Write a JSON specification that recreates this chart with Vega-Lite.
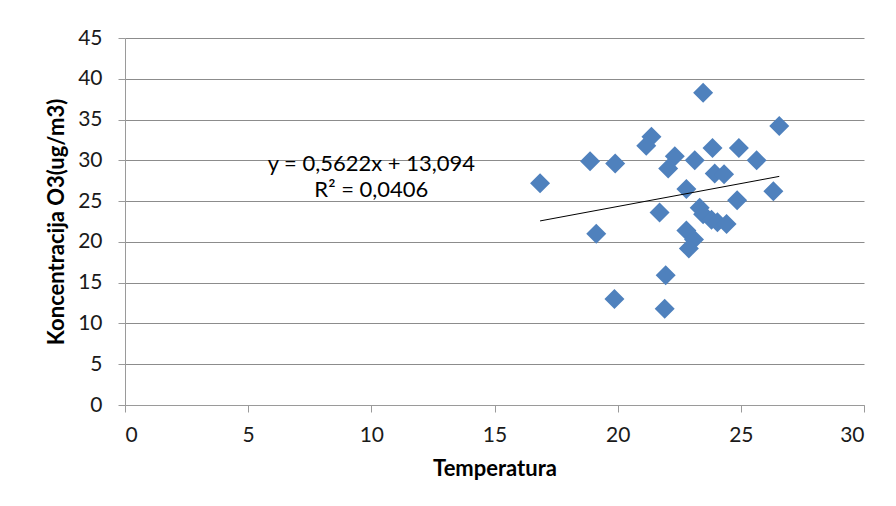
{
  "$schema": "https://vega.github.io/schema/vega-lite/v6.json",
  "width": 739,
  "height": 367,
  "autosize": "none",
  "padding": {"left": 125, "top": 38, "right": 32, "bottom": 101},
  "background": "white",
  "config": {
    "view": {"stroke": null},
    "font": "Lato",
    "axis": {"labelFont": "Lato", "titleFont": "Lato", "labelColor": "#1a1a1a", "titleColor": "#000000", "domainColor": "#9a9a9a", "tickColor": "#9a9a9a", "gridColor": "#8c8c8c", "labelFontSize": 21, "titleFontSize": 22, "titleFontWeight": "bold"}
  },
  "datasets": {
    "points": [
      {"temp": 16.85, "o3": 27.2},
      {"temp": 18.88, "o3": 29.9},
      {"temp": 19.9, "o3": 29.6},
      {"temp": 19.13, "o3": 21.0},
      {"temp": 19.87, "o3": 13.0},
      {"temp": 21.37, "o3": 32.9},
      {"temp": 21.16, "o3": 31.8},
      {"temp": 22.32, "o3": 30.5},
      {"temp": 22.05, "o3": 29.0},
      {"temp": 23.13, "o3": 30.0},
      {"temp": 21.7, "o3": 23.6},
      {"temp": 22.79, "o3": 26.5},
      {"temp": 23.47, "o3": 38.3},
      {"temp": 23.85, "o3": 31.5},
      {"temp": 24.92, "o3": 31.5},
      {"temp": 25.64, "o3": 30.0},
      {"temp": 26.56, "o3": 34.2},
      {"temp": 26.32, "o3": 26.2},
      {"temp": 24.85, "o3": 25.1},
      {"temp": 23.94, "o3": 28.4},
      {"temp": 24.32, "o3": 28.3},
      {"temp": 23.33, "o3": 24.2},
      {"temp": 23.47, "o3": 23.4},
      {"temp": 23.81, "o3": 22.7},
      {"temp": 24.05, "o3": 22.4},
      {"temp": 24.42, "o3": 22.2},
      {"temp": 22.79, "o3": 21.4},
      {"temp": 23.1, "o3": 20.3},
      {"temp": 22.89, "o3": 19.2},
      {"temp": 21.95, "o3": 15.9},
      {"temp": 21.91, "o3": 11.8}
    ],
    "trend": [
      {"temp": 16.85, "o3": 22.57},
      {"temp": 26.56, "o3": 28.03}
    ],
    "labels": [
      {"temp": 10.0, "o3": 29.6, "text": "y = 0,5622x + 13,094"},
      {"temp": 10.0, "o3": 26.4, "text": "R² = 0,0406"}
    ]
  },
  "layer": [
    {
      "data": {"name": "points"},
      "mark": {"type": "point", "shape": "diamond", "filled": true, "opacity": 1, "color": "#4F81BD", "size": 400, "strokeWidth": 0},
      "encoding": {
        "x": {"field": "temp", "type": "quantitative", "title": "Temperatura", "scale": {"domain": [0, 30], "nice": false}, "axis": {"values": [0, 5, 10, 15, 20, 25, 30], "grid": false, "tickSize": 7, "labelPadding": 12, "titlePadding": 13}},
        "y": {"field": "o3", "type": "quantitative", "title": "Koncentracija O3(ug/m3)", "scale": {"domain": [0, 45], "nice": false}, "axis": {"values": [0, 5, 10, 15, 20, 25, 30, 35, 40, 45], "grid": true, "tickSize": 7, "labelPadding": 16, "titlePadding": 9}}
      }
    },
    {
      "data": {"name": "trend"},
      "mark": {"type": "line", "color": "#000000", "strokeWidth": 1},
      "encoding": {
        "x": {"field": "temp", "type": "quantitative"},
        "y": {"field": "o3", "type": "quantitative"}
      }
    },
    {
      "data": {"name": "labels"},
      "mark": {"type": "text", "font": "Lato", "fontSize": 22, "color": "#000000", "align": "center", "baseline": "middle"},
      "encoding": {
        "x": {"field": "temp", "type": "quantitative"},
        "y": {"field": "o3", "type": "quantitative"},
        "text": {"field": "text"}
      }
    }
  ]
}
